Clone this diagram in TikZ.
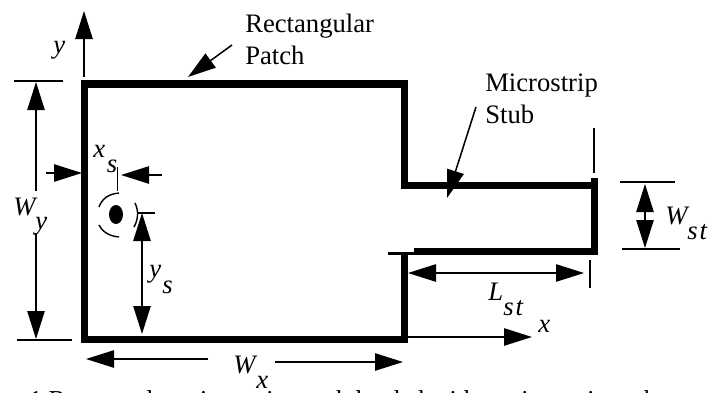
\documentclass[tikz,border=0pt]{standalone}
\usepackage{fontspec}
\setmainfont{Liberation Serif}
\usetikzlibrary{arrows.meta}
\tikzset{
 px/.style={x=0.75pt,y=-0.75pt},
 thick line/.style={line width=5.6pt,line cap=butt,black},
 dim/.style={line width=1.15pt,black},
 tick/.style={line width=1.05pt,black},
 tipped/.style={dim,-{Triangle[length=21pt,width=13pt]}},
 both/.style={dim,{Triangle[length=21pt,width=13pt]}-{Triangle[length=21pt,width=13pt]}},
 lbl/.style={inner sep=0pt,font=\fontsize{20pt}{24pt}\selectfont,anchor=base west,text=black},
 mathl/.style={inner sep=0pt,font=\fontsize{20pt}{24pt}\selectfont\itshape,anchor=base west,text=black},
}
\begin{document}
\begin{tikzpicture}[px]
\useasboundingbox (0,0) rectangle (708,393);
\clip (0,0) rectangle (708,393);
\draw[thick line,miter limit=10] (84.5,343) -- (84.5,84) -- (404.5,84) -- (404.5,189);
\draw[thick line] (401,185.5) -- (598,185.5);
\draw[thick line] (594.5,178) -- (594.5,254);
\draw[thick line] (414,251.5) -- (598,251.5);
\draw[thick line] (404.5,254) -- (404.5,343);
\draw[thick line] (81,339.5) -- (408,339.5);
\draw[line width=2pt] (388,253.5) -- (414,253.5);
% feed
\fill[black] (116,214.5) ellipse (7 and 9.5);
\draw[tick] (119,193) .. controls (108,194) and (102,199) .. (99,207);
\draw[tick] (99,225) .. controls (102,231) and (108,236) .. (119,237);
\draw[tick] (135,203) .. controls (139,211) and (138,220) .. (134,227);
% y axis
\coordinate (yo) at (84,77); \coordinate (ye) at (84,11);
\draw[tipped] (yo) -- (ye);
\node[mathl] (ylab) at (53,53) {y};
% x axis
\coordinate (xo) at (408,337); \coordinate (xe) at (532,337);
\draw[tipped] (xo) -- (xe);
\node[mathl] (xlab) at (538,332) {x};
% Wy
\draw[tick] (14,81) -- (63,81);
\draw[tick] (17,340) -- (72,340);
\coordinate (wy1) at (36,191); \coordinate (wy1e) at (36,82);
\coordinate (wy2) at (36,233); \coordinate (wy2e) at (36,339);
\draw[tipped] (wy1) -- (wy1e);
\draw[tipped] (wy2) -- (wy2e);
\node[mathl] (wy) at (13,215) {W};
\node[mathl] (wys) at (35,229) {y};
% xs
\coordinate (xa) at (46,173); \coordinate (xae) at (82,173);
\draw[tipped] (xa) -- (xae);
\coordinate (xb) at (162,175); \coordinate (xbe) at (121,175);
\draw[tipped] (xb) -- (xbe);
\draw[tick] (117.5,167) -- (117.5,191);
\node[mathl] (xs) at (93,157) {x};
\node[mathl] (xss) at (106.5,172) {s};
% ys
\draw[tick] (138,213) -- (155,213);
\coordinate (ysa) at (142,213); \coordinate (ysb) at (142,334);
\draw[both] (ysa) -- (ysb);
\node[mathl] (ys) at (149,277) {y};
\node[mathl] (yss) at (162,293) {s};
% Wx
\coordinate (wxa) at (208,359); \coordinate (wxae) at (86,359);
\draw[tipped] (wxa) -- (wxae);
\coordinate (wxc) at (275,362); \coordinate (wxd) at (403,362);
\draw[tipped] (wxc) -- (wxd);
\node[mathl] (wx) at (233,373) {W};
\node[mathl] (wxs) at (256,388) {x};
% Lst
\coordinate (la) at (408,273); \coordinate (lb) at (584,273);
\draw[both] (la) -- (lb);
\draw[tick] (590,260) -- (590,288);
\node[mathl] (l) at (488,300) {L};
\node[mathl] (st) at (503,315) {s\kern1.5pt t};
% Wst
\draw[tick] (620,182) -- (675,182);
\draw[tick] (622,249) -- (680,249);
\coordinate (wa) at (645,184); \coordinate (wb) at (645,248);
\draw[both] (wa) -- (wb);
\node[mathl] (w) at (665,224) {W};
\node[mathl] (wst) at (687,239) {s\kern1.5pt t};
% Microstrip arrow
\coordinate (ma) at (476,107); \coordinate (mb) at (447,198);
\draw[tipped] (ma) -- (mb);
\draw[tick] (594,128) -- (594,173);
\node[lbl] (m1) at (485,91) {Microstrip};
\node[lbl] (m2) at (485,123) {Stub};
% Rectangular
\coordinate (ra) at (232,45); \coordinate (rb) at (188,77);
\draw[tipped] (ra) -- (rb);
\node[lbl] (r1) at (245,32) {Rectangular};
\node[lbl] (r2) at (245,64) {Patch};
\node[lbl,font=\fontsize{19.4pt}{24pt}\selectfont] (cap) at (29,408) {1 Rectangular microstrip patch loaded with a microstrip stub};
\end{tikzpicture}
\end{document}
